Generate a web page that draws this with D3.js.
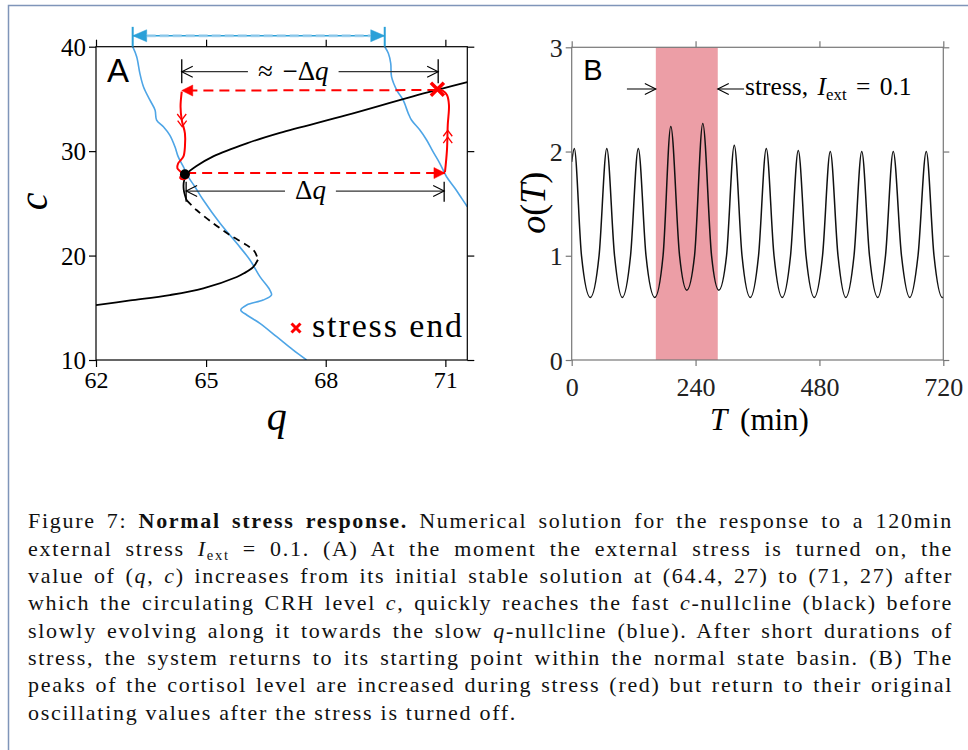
<!DOCTYPE html>
<html>
<head>
<meta charset="utf-8">
<script src="https://cdn.jsdelivr.net/npm/d3@7"></script>
<style>
  body { margin: 0; background: #fff; }
  svg text { font-family: "Liberation Serif", "Times New Roman", serif; }
</style>
</head>
<body>
<svg id="fig" width="968" height="750"></svg>
<script>
// ---------- panel A data: phase plane (q, c) ----------
const qDomain = [62.24, 71.55];
const cDomain = [10, 40];
const qTicks = [62.24, 65, 68, 71];
const cTicks = [10, 20, 30, 40];

// fast c-nullcline (black): stable upper branch, unstable middle (dashed), stable lower branch
const cNullUpper = [[64.51, 25.3], [64.44, 26.3], [64.45, 27.2], [64.55, 27.95], [64.75, 28.55], [65.18, 29.5],
  [66.02, 30.75], [66.85, 31.75], [68.52, 33.45], [70.19, 35.25], [71.55, 36.6]];
const cNullMiddle = [[64.51, 25.3], [64.76, 24.36], [65.18, 23.09], [65.6, 21.96], [66.02, 21.0], [66.22, 20.37], [66.3, 19.6]];
const cNullLower = [[66.3, 19.6], [66.18, 18.9], [65.95, 18.3], [65.77, 17.95], [64.93, 16.86], [64.09, 16.22], [63.1, 15.7], [62.24, 15.26]];

// slow q-nullcline (blue), before and during stress
const qNullLeft = [[63.16, 40], [63.26, 39.04], [63.34, 37.45], [63.43, 36.17], [63.59, 34.9], [63.72, 33.94], [63.76, 32.98],
  [63.93, 32.34], [64.09, 31.54], [64.22, 30.42], [64.30, 29.47], [64.43, 28.51], [64.55, 27.55], [64.72, 26.59], [64.93, 25.32],
  [65.35, 23.09], [65.77, 21.17], [66.10, 19.58], [66.35, 17.98], [66.60, 16.70], [66.64, 16.22], [66.43, 15.74], [66.02, 15.27],
  [65.87, 14.79], [66.02, 14.31], [66.35, 13.51], [66.77, 12.23], [67.18, 10.96], [67.52, 10.0]];
const qNullRight = [[69.48, 40], [69.57, 39.37], [69.63, 38.41], [69.65, 37.13], [69.78, 35.85], [69.94, 34.9], [70.07, 33.62],
  [70.15, 32.98], [70.36, 32.02], [70.53, 31.07], [70.69, 29.95], [70.86, 28.83], [71.03, 27.55], [71.24, 26.44], [71.41, 25.48], [71.55, 24.68]];
const qShift = [63.16, 69.48];   // blue double arrow above the axes
const qShiftLevel = 41.05;
const qShiftTick = [40, 41.9];

// red trajectory
const stablePoint = [64.47, 27.78];
const stressOnJump = [[64.5, 27.9], [70.99, 27.9]];
const stressRise = [[70.99, 27.98], [71.04, 30.1], [71.06, 32.5], [71.09, 34.42], [71.04, 35.37], [70.94, 35.76], [70.80, 35.92]];
const stressEnd = [70.80, 35.92];
const stressOffJump = [[70.80, 35.85], [64.39, 35.8]];
const relaxPath = [[64.39, 35.69], [64.36, 34.25], [64.39, 32.98], [64.47, 31.71], [64.47, 30.42], [64.43, 29.47], [64.30, 28.83],
  [64.28, 28.36], [64.39, 27.88], [64.35, 27.43], [64.45, 27.33], [64.55, 27.6], [64.50, 28.0], [64.40, 27.8]];
const chevronsUp = [[71.06, 32.0], [71.06, 31.35]];
const chevronsDown = [[64.39, 32.98], [64.40, 32.34]];

// dimension arrows
const approxDq = { q: [64.39, 70.82], c: 37.61, bar: [36.5, 38.79], labelQ: 66.3 };
const deltaQ = { q: [64.50, 70.97], c: 26.18, bar: [25.16, 27.07], labelQ: 67.23 };

// ---------- panel B data: cortisol o(T) ----------
const tDomain = [0, 720];
const oDomain = [0, 3];
const tTicks = [0, 240, 480, 720];
const oTicks = [0, 1, 2, 3];
const stressWindow = [163, 283];
const cortisolT = [0, 5, 19, 36, 53, 68, 83, 98, 114, 129, 144, 161, 177, 192, 209, 223, 238, 254, 271, 285, 300, 315,
  330, 346, 362, 377, 392, 408, 424, 439, 454, 470, 486, 501, 516, 531, 547, 562, 577, 593, 608, 623, 639, 655, 671, 687, 702, 718, 720];
const cortisolO = [1.9, 2.03, 1.0, 0.6, 1.0, 2.03, 1.0, 0.6, 1.0, 2.03, 1.0, 0.6, 1.0, 2.24, 1.0, 0.67, 1.0, 2.27, 1.0, 0.67, 1.0, 2.06,
  1.0, 0.6, 1.0, 2.03, 1.0, 0.6, 1.0, 2.01, 1.0, 0.6, 1.0, 2.0, 1.0, 0.6, 1.0, 2.0, 1.0, 0.6, 1.0, 2.0, 1.0, 0.6, 1.0, 2.0, 1.0, 0.6, 0.6];
const stressArrowT = [107, 334];
const stressArrowO = 2.6;

// ---------- caption ----------
const caption = [
  [["Figure 7: ", "n"], ["Normal stress response.", "b"], [" Numerical solution for the response to a 120min", "n"]],
  [["external stress ", "n"], ["I", "i"], ["ext", "sub"], [" = 0.1. (A) At the moment the external stress is turned on, the", "n"]],
  [["value of (", "n"], ["q", "i"], [", ", "n"], ["c", "i"], [") increases from its initial stable solution at (64.4, 27) to (71, 27) after", "n"]],
  [["which the circulating CRH level ", "n"], ["c", "i"], [", quickly reaches the fast ", "n"], ["c", "i"], ["-nullcline (black) before", "n"]],
  [["slowly evolving along it towards the slow ", "n"], ["q", "i"], ["-nullcline (blue). After short durations of", "n"]],
  [["stress, the system returns to its starting point within the normal state basin. (B) The", "n"]],
  [["peaks of the cortisol level are increased during stress (red) but return to their original", "n"]],
  [["oscillating values after the stress is turned off.", "n"]]
];

const BLUE = "#4ea5e6";
const ARROW_BLUE = "#2aa0d8";
const RED = "#ff0000";
const SERIF = "'Liberation Serif', 'Times New Roman', serif";

const svg = d3.select("#fig");
svg.append("rect").attr("width", 968).attr("height", 750).attr("fill", "#fff");
// page frame
svg.append("rect").attr("x", 8.5).attr("y", 5.5).attr("width", 990).attr("height", 780)
  .attr("fill", "none").attr("stroke", "#7f95b9").attr("stroke-width", 1.5);

const defs = svg.append("defs");
function addMarker(id, color, filled, len, half) {
  const m = defs.append("marker").attr("id", id)
    .attr("viewBox", `0 0 ${len} ${half * 2}`)
    .attr("refX", len).attr("refY", half)
    .attr("markerWidth", len).attr("markerHeight", half * 2)
    .attr("markerUnits", "userSpaceOnUse").attr("orient", "auto")
    .style("overflow", "visible");
  m.append("path")
    .attr("d", filled ? `M0,0L${len},${half}L0,${half * 2}Z` : `M0,0L${len},${half}L0,${half * 2}`)
    .attr("fill", filled ? color : "none").attr("stroke", color)
    .attr("stroke-width", filled ? 0.5 : 1.1);
}
addMarker("redHead", RED, true, 11, 5.5);
addMarker("blueHead", ARROW_BLUE, true, 14, 6);
addMarker("openHead", "#000", false, 11, 5.5);

// write mixed-style text (italic, bold, subscript) into a text selection
function richText(text, segs, size) {
  let shift = 0;
  segs.forEach(([str, kind]) => {
    const t = text.append("tspan").text(str);
    if (kind === "b") t.attr("font-weight", "bold");
    if (kind === "i") t.attr("font-style", "italic");
    if (kind === "sub") {
      shift = size * 0.2;
      t.attr("font-size", size * 0.66).attr("dy", shift);
    } else if (shift) {
      t.attr("dy", -shift);
      shift = 0;
    }
  });
}

class PhasePlanePanel {
  constructor(svg) {
    this.box = { x: 96, y: 46.7, w: 371.3, h: 313.3 };
    this.x = d3.scaleLinear().domain(qDomain).range([0, this.box.w]);
    this.y = d3.scaleLinear().domain(cDomain).range([this.box.h, 0]);
    this.g = svg.append("g").attr("transform", `translate(${this.box.x},${this.box.y})`);
    this.line = d3.line().x(d => this.x(d[0])).y(d => this.y(d[1])).curve(d3.curveCatmullRom.alpha(0.5));

    defs.append("clipPath").attr("id", "clipA").append("rect")
      .attr("width", this.box.w).attr("height", this.box.h);
    this.plot = this.g.append("g").attr("clip-path", "url(#clipA)");
  }

  render() {
    this.drawAxes();
    this.drawNullclines();
    this.drawTrajectory();
    this.drawDimensions();
    this.drawLegend();
    this.g.append("text").attr("x", 11).attr("y", 35)
      .style("font-family", "'Liberation Sans', Arial, sans-serif").attr("font-size", 33).text("A");
  }

  drawAxes() {
    const g = this.g, w = this.box.w, h = this.box.h;
    const bottom = g.append("g").attr("transform", `translate(0,${h})`)
      .call(d3.axisBottom(this.x).tickValues(qTicks).tickFormat(d3.format(".0f")).tickSize(7).tickSizeOuter(0));
    const left = g.append("g")
      .call(d3.axisLeft(this.y).tickValues(cTicks).tickFormat(d3.format("d")).tickSize(7).tickSizeOuter(0));
    g.append("g").call(d3.axisTop(this.x).tickValues(qTicks).tickFormat("").tickSize(7).tickSizeOuter(0));
    g.append("g").attr("transform", `translate(${w},0)`)
      .call(d3.axisRight(this.y).tickValues(cTicks).tickFormat("").tickSize(7).tickSizeOuter(0));
    g.selectAll(".domain").remove();
    g.selectAll(".tick line").attr("stroke", "#000").attr("stroke-width", 1.2);
    [bottom, left].forEach(a => a.attr("font-family", SERIF));
    bottom.selectAll("text").attr("y", 28).attr("dy", 0).attr("font-size", 24).attr("fill", "#000");
    left.selectAll("text").attr("x", -10).attr("dy", "0.35em").attr("font-size", 25).attr("fill", "#000");
    g.append("rect").attr("width", w).attr("height", h).attr("fill", "none").attr("stroke", "#000").attr("stroke-width", 1.2);

    g.append("text").attr("x", w / 2 - 5).attr("y", h + 70).attr("text-anchor", "middle")
      .attr("font-size", 40).attr("font-style", "italic").text("q");
    g.append("text").attr("transform", `translate(-49,${h / 2 - 2}) rotate(-90)`).attr("text-anchor", "middle")
      .attr("font-size", 40).attr("font-style", "italic").text("c");
  }

  drawNullclines() {
    const p = this.plot;
    p.append("path").attr("d", this.line(qNullLeft)).attr("fill", "none").attr("stroke", BLUE).attr("stroke-width", 1.6);
    p.append("path").attr("d", this.line(qNullRight)).attr("fill", "none").attr("stroke", BLUE).attr("stroke-width", 1.6);
    p.append("path").attr("d", this.line(cNullUpper)).attr("fill", "none").attr("stroke", "#000").attr("stroke-width", 1.8);
    p.append("path").attr("d", this.line(cNullLower)).attr("fill", "none").attr("stroke", "#000").attr("stroke-width", 1.8);
    p.append("path").attr("d", this.line(cNullMiddle)).attr("fill", "none").attr("stroke", "#000")
      .attr("stroke-width", 1.8).attr("stroke-dasharray", "7,5");

    // shift of the q-nullcline, drawn above the axes
    const g = this.g;
    qShift.forEach(q => {
      g.append("line").attr("x1", this.x(q)).attr("x2", this.x(q))
        .attr("y1", this.y(qShiftTick[0])).attr("y2", this.y(qShiftTick[1]))
        .attr("stroke", ARROW_BLUE).attr("stroke-width", 2);
    });
    const mid = (qShift[0] + qShift[1]) / 2;
    [[mid, qShift[0]], [mid, qShift[1]]].forEach(([a, b]) => {
      g.append("line").attr("x1", this.x(a)).attr("x2", this.x(b))
        .attr("y1", this.y(qShiftLevel)).attr("y2", this.y(qShiftLevel))
        .attr("stroke", ARROW_BLUE).attr("stroke-width", 1.6).attr("marker-end", "url(#blueHead)");
    });
    g.append("line").attr("x1", this.x(qShift[0]) + 14).attr("x2", this.x(qShift[1]) - 14)
      .attr("y1", this.y(qShiftLevel)).attr("y2", this.y(qShiftLevel))
      .attr("stroke", "#9fd0ee").attr("stroke-width", 3).attr("stroke-dasharray", "9,4").attr("opacity", 0.8);
  }

  drawTrajectory() {
    const g = this.g;
    const straight = d3.line().x(d => this.x(d[0])).y(d => this.y(d[1]));
    g.append("path").attr("d", straight(stressOnJump)).attr("fill", "none").attr("stroke", RED)
      .attr("stroke-width", 2).attr("stroke-dasharray", "10,6").attr("marker-end", "url(#redHead)");
    g.append("path").attr("d", straight(stressOffJump)).attr("fill", "none").attr("stroke", RED)
      .attr("stroke-width", 2).attr("stroke-dasharray", "10,6").attr("marker-end", "url(#redHead)");
    g.append("path").attr("d", this.line(stressRise)).attr("fill", "none").attr("stroke", RED).attr("stroke-width", 2);
    g.append("path").attr("d", this.line(relaxPath)).attr("fill", "none").attr("stroke", RED).attr("stroke-width", 2);

    const chevron = (pts, dir) => pts.forEach(d => {
      const px = this.x(d[0]), py = this.y(d[1]);
      g.append("path").attr("d", `M${px - 4.5},${py - dir * 6}L${px},${py}L${px + 4.5},${py - dir * 6}`)
        .attr("fill", "none").attr("stroke", RED).attr("stroke-width", 1.3);
    });
    chevron(chevronsUp, -1);
    chevron(chevronsDown, 1);

    g.append("circle").attr("cx", this.x(stablePoint[0])).attr("cy", this.y(stablePoint[1]))
      .attr("r", 5).attr("fill", "#000");
    this.cross(this.x(stressEnd[0]), this.y(stressEnd[1]), 6.5, 3.5);
  }

  cross(px, py, s, sw) {
    this.g.append("path").attr("d", `M${px - s},${py - s}L${px + s},${py + s}M${px - s},${py + s}L${px + s},${py - s}`)
      .attr("stroke", RED).attr("stroke-width", sw).attr("fill", "none");
  }

  dimension(spec, label) {
    const g = this.g;
    const cy = this.y(spec.c);
    const text = g.append("text").attr("x", this.x(spec.labelQ)).attr("y", cy + 8).attr("font-size", 27)
      .style("word-spacing", "3px");
    richText(text, label, 27);
    const bb = text.node().getBBox();
    const x0 = this.x(spec.q[0]), x1 = this.x(spec.q[1]);
    g.append("line").attr("x1", bb.x - 10).attr("x2", x0).attr("y1", cy).attr("y2", cy)
      .attr("stroke", "#333").attr("stroke-width", 1.2).attr("marker-end", "url(#openHead)");
    g.append("line").attr("x1", bb.x + bb.width + 10).attr("x2", x1).attr("y1", cy).attr("y2", cy)
      .attr("stroke", "#333").attr("stroke-width", 1.2).attr("marker-end", "url(#openHead)");
    [x0, x1].forEach(x => {
      g.append("line").attr("x1", x).attr("x2", x).attr("y1", this.y(spec.bar[0])).attr("y2", this.y(spec.bar[1]))
        .attr("stroke", "#000").attr("stroke-width", 1.3);
    });
  }

  drawDimensions() {
    this.dimension(approxDq, [["\u2248 \u2212\u0394", "n"], ["q", "i"]]);
    this.dimension(deltaQ, [["\u0394", "n"], ["q", "i"]]);
  }

  drawLegend() {
    this.cross(200, 281.3, 4.5, 3);
    this.g.append("text").attr("x", 216).attr("y", 290).attr("font-size", 34)
      .attr("textLength", 150).attr("lengthAdjust", "spacing").text("stress end");
  }
}

class TimeSeriesPanel {
  constructor(svg) {
    this.box = { x: 571.7, y: 47.3, w: 371.6, h: 312.7 };
    this.x = d3.scaleLinear().domain(tDomain).range([0, this.box.w]);
    this.y = d3.scaleLinear().domain(oDomain).range([this.box.h, 0]);
    this.g = svg.append("g").attr("transform", `translate(${this.box.x},${this.box.y})`);
    this.data = cortisolT.map((t, i) => ({ t: t, o: cortisolO[i] }));
  }

  render() {
    const g = this.g, w = this.box.w, h = this.box.h;
    g.append("rect").attr("x", this.x(stressWindow[0])).attr("width", this.x(stressWindow[1]) - this.x(stressWindow[0]))
      .attr("y", 0).attr("height", h).attr("fill", "#ec9ea6");

    const line = d3.line().x(d => this.x(d.t)).y(d => this.y(d.o)).curve(d3.curveMonotoneX);
    g.append("path").datum(this.data).attr("d", line).attr("fill", "none").attr("stroke", "#111").attr("stroke-width", 1.5);

    const bottom = g.append("g").attr("transform", `translate(0,${h})`)
      .call(d3.axisBottom(this.x).tickValues(tTicks).tickFormat(d3.format("d")).tickSize(6).tickSizeOuter(0));
    const left = g.append("g")
      .call(d3.axisLeft(this.y).tickValues(oTicks).tickFormat(d3.format("d")).tickSize(6).tickSizeOuter(0));
    g.append("g").call(d3.axisTop(this.x).tickValues(tTicks).tickFormat("").tickSize(6).tickSizeOuter(0));
    g.append("g").attr("transform", `translate(${w},0)`)
      .call(d3.axisRight(this.y).tickValues(oTicks).tickFormat("").tickSize(6).tickSizeOuter(0));
    g.selectAll(".domain").remove();
    g.selectAll(".tick line").attr("stroke", "#777").attr("stroke-width", 1.2);
    [bottom, left].forEach(a => a.attr("font-family", SERIF));
    bottom.selectAll("text").attr("y", 36).attr("dy", 0).attr("font-size", 26).attr("fill", "#222");
    left.selectAll("text").attr("x", -9).attr("dy", "0.35em").attr("font-size", 26).attr("fill", "#222");
    g.append("rect").attr("width", w).attr("height", h).attr("fill", "none").attr("stroke", "#777").attr("stroke-width", 1.2);

    // axis titles
    const xt = g.append("text").attr("x", w / 2 + 2).attr("y", h + 70).attr("text-anchor", "middle")
      .attr("font-size", 31).style("word-spacing", "5px");
    richText(xt, [["T", "i"], [" (min)", "n"]], 31);
    const yt = g.append("text").attr("transform", `translate(-27,${h / 2 - 1}) rotate(-90)`)
      .attr("text-anchor", "middle").attr("font-size", 36);
    richText(yt, [["o", "i"], ["(", "n"], ["T", "i"], [")", "n"]], 36);

    g.append("text").attr("x", 11.6).attr("y", 32.7)
      .style("font-family", "'Liberation Sans', Arial, sans-serif").attr("font-size", 29).text("B");

    // stress window annotation
    const ay = this.y(stressArrowO);
    g.append("line").attr("x1", this.x(stressArrowT[0])).attr("x2", this.x(stressWindow[0]))
      .attr("y1", ay).attr("y2", ay).attr("stroke", "#111").attr("stroke-width", 1.1).attr("marker-end", "url(#openHead)");
    g.append("line").attr("x1", this.x(stressArrowT[1])).attr("x2", this.x(stressWindow[1]))
      .attr("y1", ay).attr("y2", ay).attr("stroke", "#111").attr("stroke-width", 1.1).attr("marker-end", "url(#openHead)");
    const st = g.append("text").attr("x", this.x(stressArrowT[1]) + 1).attr("y", ay + 6).attr("font-size", 25.5)
      .style("word-spacing", "3px");
    richText(st, [["stress, ", "n"], ["I", "i"], ["ext", "sub"], [" = 0.1", "n"]], 25.5);
  }
}

new PhasePlanePanel(svg).render();
new TimeSeriesPanel(svg).render();

// caption: widen letters a little to match the reference face, then justify with word spacing
const capSize = 22;
const capLeft = 28, capRight = 953, capTop = 528.3, capStep = 27.33, lastWidth = 489;
const capLines = caption.map((segs, i) => {
  const t = svg.append("text").attr("x", capLeft).attr("y", capTop + i * capStep)
    .attr("font-size", capSize).attr("fill", "#111");
  richText(t, segs, capSize);
  return t;
});
const lastNode = capLines[capLines.length - 1].node();
const lastText = lastNode.textContent;
const letterSp = Math.max(0, (lastWidth - lastNode.getComputedTextLength()) / lastText.length);
capLines.forEach((t, i) => {
  t.style("letter-spacing", letterSp + "px");
  if (i === capLines.length - 1) return;
  const node = t.node();
  const spaces = (node.textContent.match(/ /g) || []).length;
  const natural = node.getComputedTextLength();
  t.style("word-spacing", ((capRight - capLeft - natural) / spaces) + "px");
});
</script>
</body>
</html>
